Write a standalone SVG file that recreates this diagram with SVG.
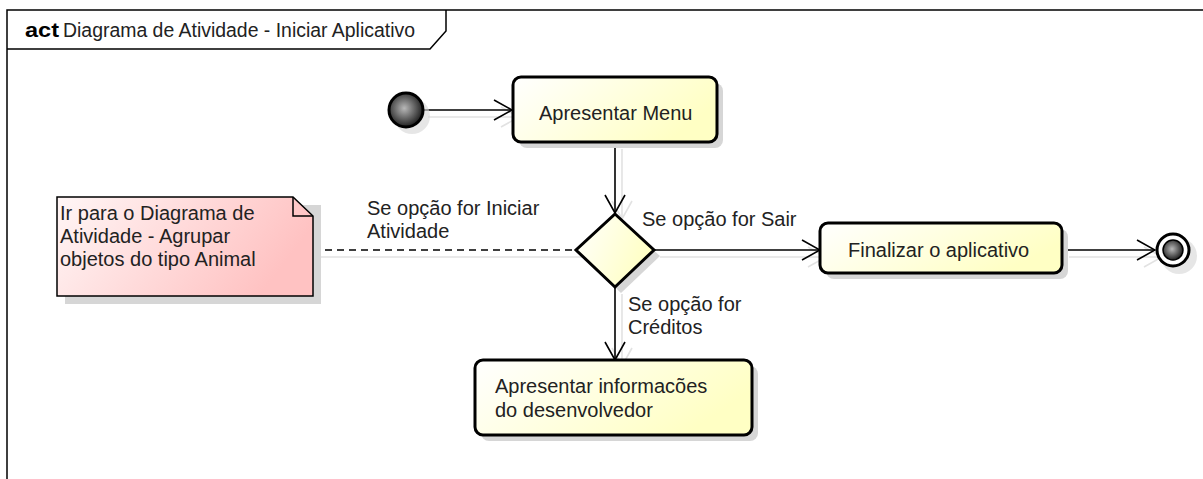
<svg xmlns="http://www.w3.org/2000/svg" width="1203" height="479" viewBox="0 0 1203 479">
  <style>
    text { font-family: "Liberation Sans", Arial, sans-serif; font-size: 20px; fill: #222; }
    .bold { font-weight: bold; fill: #000; font-size: 21px; }
    .frame { fill: none; stroke: #000; stroke-width: 1.5; }
    .action { fill: url(#actionFill); stroke: #000; stroke-width: 3; }
    .shadow { fill: #d6d6d6; stroke: none; }
    .edge { fill: none; stroke: #000; stroke-width: 1.6; }
    .edge-shadow { fill: none; stroke: #e2e2e2; stroke-width: 1.6; }
    .dashed { stroke-dasharray: 7 5; }
    .note { fill: url(#noteFill); stroke: #000; stroke-width: 1.5; }
  </style>
  <defs>
    <linearGradient id="actionFill" x1="0" y1="0" x2="1" y2="0.4">
      <stop offset="0" stop-color="#ffffff"/>
      <stop offset="1" stop-color="#ffffc4"/>
    </linearGradient>
    <linearGradient id="noteFill" x1="0" y1="0" x2="1" y2="0.3">
      <stop offset="0" stop-color="#fff6f6"/>
      <stop offset="1" stop-color="#ffc2c2"/>
    </linearGradient>
    <radialGradient id="ballFill" cx="0.45" cy="0.45" r="0.6">
      <stop offset="0" stop-color="#b8b8b8"/>
      <stop offset="0.6" stop-color="#555"/>
      <stop offset="1" stop-color="#111"/>
    </radialGradient>
    <marker id="open" viewBox="0 0 20 22" refX="19" refY="11" markerWidth="20" markerHeight="22" markerUnits="userSpaceOnUse" orient="auto">
      <path d="M1,1 L19,11 L1,21" fill="none" stroke="#000" stroke-width="1.6"/>
    </marker>
    <marker id="openShadow" viewBox="0 0 20 22" refX="19" refY="11" markerWidth="20" markerHeight="22" markerUnits="userSpaceOnUse" orient="auto">
      <path d="M1,1 L19,11 L1,21" fill="none" stroke="#e2e2e2" stroke-width="1.6"/>
    </marker>
  </defs>

  <rect width="1203" height="479" fill="#fff"/>

  <!-- diagram frame with title tab -->
  <g id="frame">
    <path class="frame" d="M7,479 L7,10 L1203,10"/>
    <path class="frame" d="M7,49 L430,49 L446,31 L446,10"/>
    <text class="bold" x="25" y="37" textLength="34" lengthAdjust="spacingAndGlyphs">act</text>
    <text x="63" y="37" textLength="352" lengthAdjust="spacingAndGlyphs">Diagrama de Atividade - Iniciar Aplicativo</text>
  </g>

  <!-- connectors -->
  <g id="connectors">
    <!-- soft shadows under the flows -->
    <path class="edge-shadow" d="M428,117 L519,117" marker-end="url(#openShadow)"/>
    <path class="edge-shadow" d="M622,149 L622,219" marker-end="url(#openShadow)"/>
    <path class="edge-shadow" d="M660,257 L826,257" marker-end="url(#openShadow)"/>
    <path class="edge-shadow" d="M1069,257 L1162,257" marker-end="url(#openShadow)"/>
    <path class="edge-shadow" d="M622,294 L622,366" marker-end="url(#openShadow)"/>
    <path class="edge-shadow" d="M320,257 L582,257"/>

    <path class="edge" d="M424,110 L512,110" marker-end="url(#open)"/>
    <path class="edge" d="M615,143 L615,213" marker-end="url(#open)"/>
    <path class="edge" d="M654,250 L820,250" marker-end="url(#open)"/>
    <path class="edge" d="M1063,250 L1155,250" marker-end="url(#open)"/>
    <path class="edge" d="M615,288 L615,360" marker-end="url(#open)"/>
    <path class="edge dashed" d="M313,250 L575,250"/>

    <text x="367" y="215">Se opção for Iniciar</text>
    <text x="367" y="238">Atividade</text>
    <text x="642" y="226">Se opção for Sair</text>
    <text x="628" y="311">Se opção for</text>
    <text x="628" y="334">Créditos</text>
  </g>

  <!-- initial node -->
  <g id="start">
    <circle class="shadow" cx="412" cy="116" r="18" fill-opacity="0.6"/>
    <circle cx="406" cy="110" r="17" fill="url(#ballFill)" stroke="#000" stroke-width="3"/>
  </g>

  <!-- action: Apresentar Menu -->
  <g id="apresentar-menu">
    <rect class="shadow" x="519" y="83" width="204" height="65" rx="8"/>
    <rect class="action" x="513" y="77" width="204" height="65" rx="8"/>
    <text x="539" y="120">Apresentar Menu</text>
  </g>

  <!-- decision -->
  <g id="decisao">
    <path class="shadow" d="M621,221 L660,256 L621,293 L582,256 Z"/>
    <path class="action" d="M615,214 L654,250 L615,287 L576,250 Z"/>
  </g>

  <!-- action: Finalizar o aplicativo -->
  <g id="finalizar">
    <rect class="shadow" x="826" y="229" width="242" height="50" rx="8"/>
    <rect class="action" x="820" y="223" width="242" height="50" rx="8"/>
    <text x="848" y="257">Finalizar o aplicativo</text>
  </g>

  <!-- final node -->
  <g id="fim">
    <circle class="shadow" cx="1179" cy="256" r="18" fill-opacity="0.6"/>
    <circle cx="1173" cy="250" r="16" fill="#fff" stroke="#000" stroke-width="3"/>
    <circle cx="1173" cy="250" r="10" fill="url(#ballFill)" stroke="#000" stroke-width="1.5"/>
  </g>

  <!-- action: Apresentar informacões do desenvolvedor -->
  <g id="creditos">
    <rect class="shadow" x="481" y="366" width="277" height="75" rx="8"/>
    <rect class="action" x="475" y="360" width="277" height="75" rx="8"/>
    <text x="495" y="393">Apresentar informacões</text>
    <text x="495" y="417">do desenvolvedor</text>
  </g>

  <!-- note -->
  <g id="nota">
    <path class="shadow" d="M65,205 L321,205 L321,304 L65,304 Z"/>
    <path class="note" d="M57,197 L293,197 L313,216 L313,296 L57,296 Z"/>
    <path fill="none" stroke="#000" stroke-width="1.5" d="M293,197 L293,216 L313,216"/>
    <text x="60" y="220">Ir para o Diagrama de</text>
    <text x="60" y="243">Atividade - Agrupar</text>
    <text x="60" y="266">objetos do tipo Animal</text>
  </g>
</svg>
